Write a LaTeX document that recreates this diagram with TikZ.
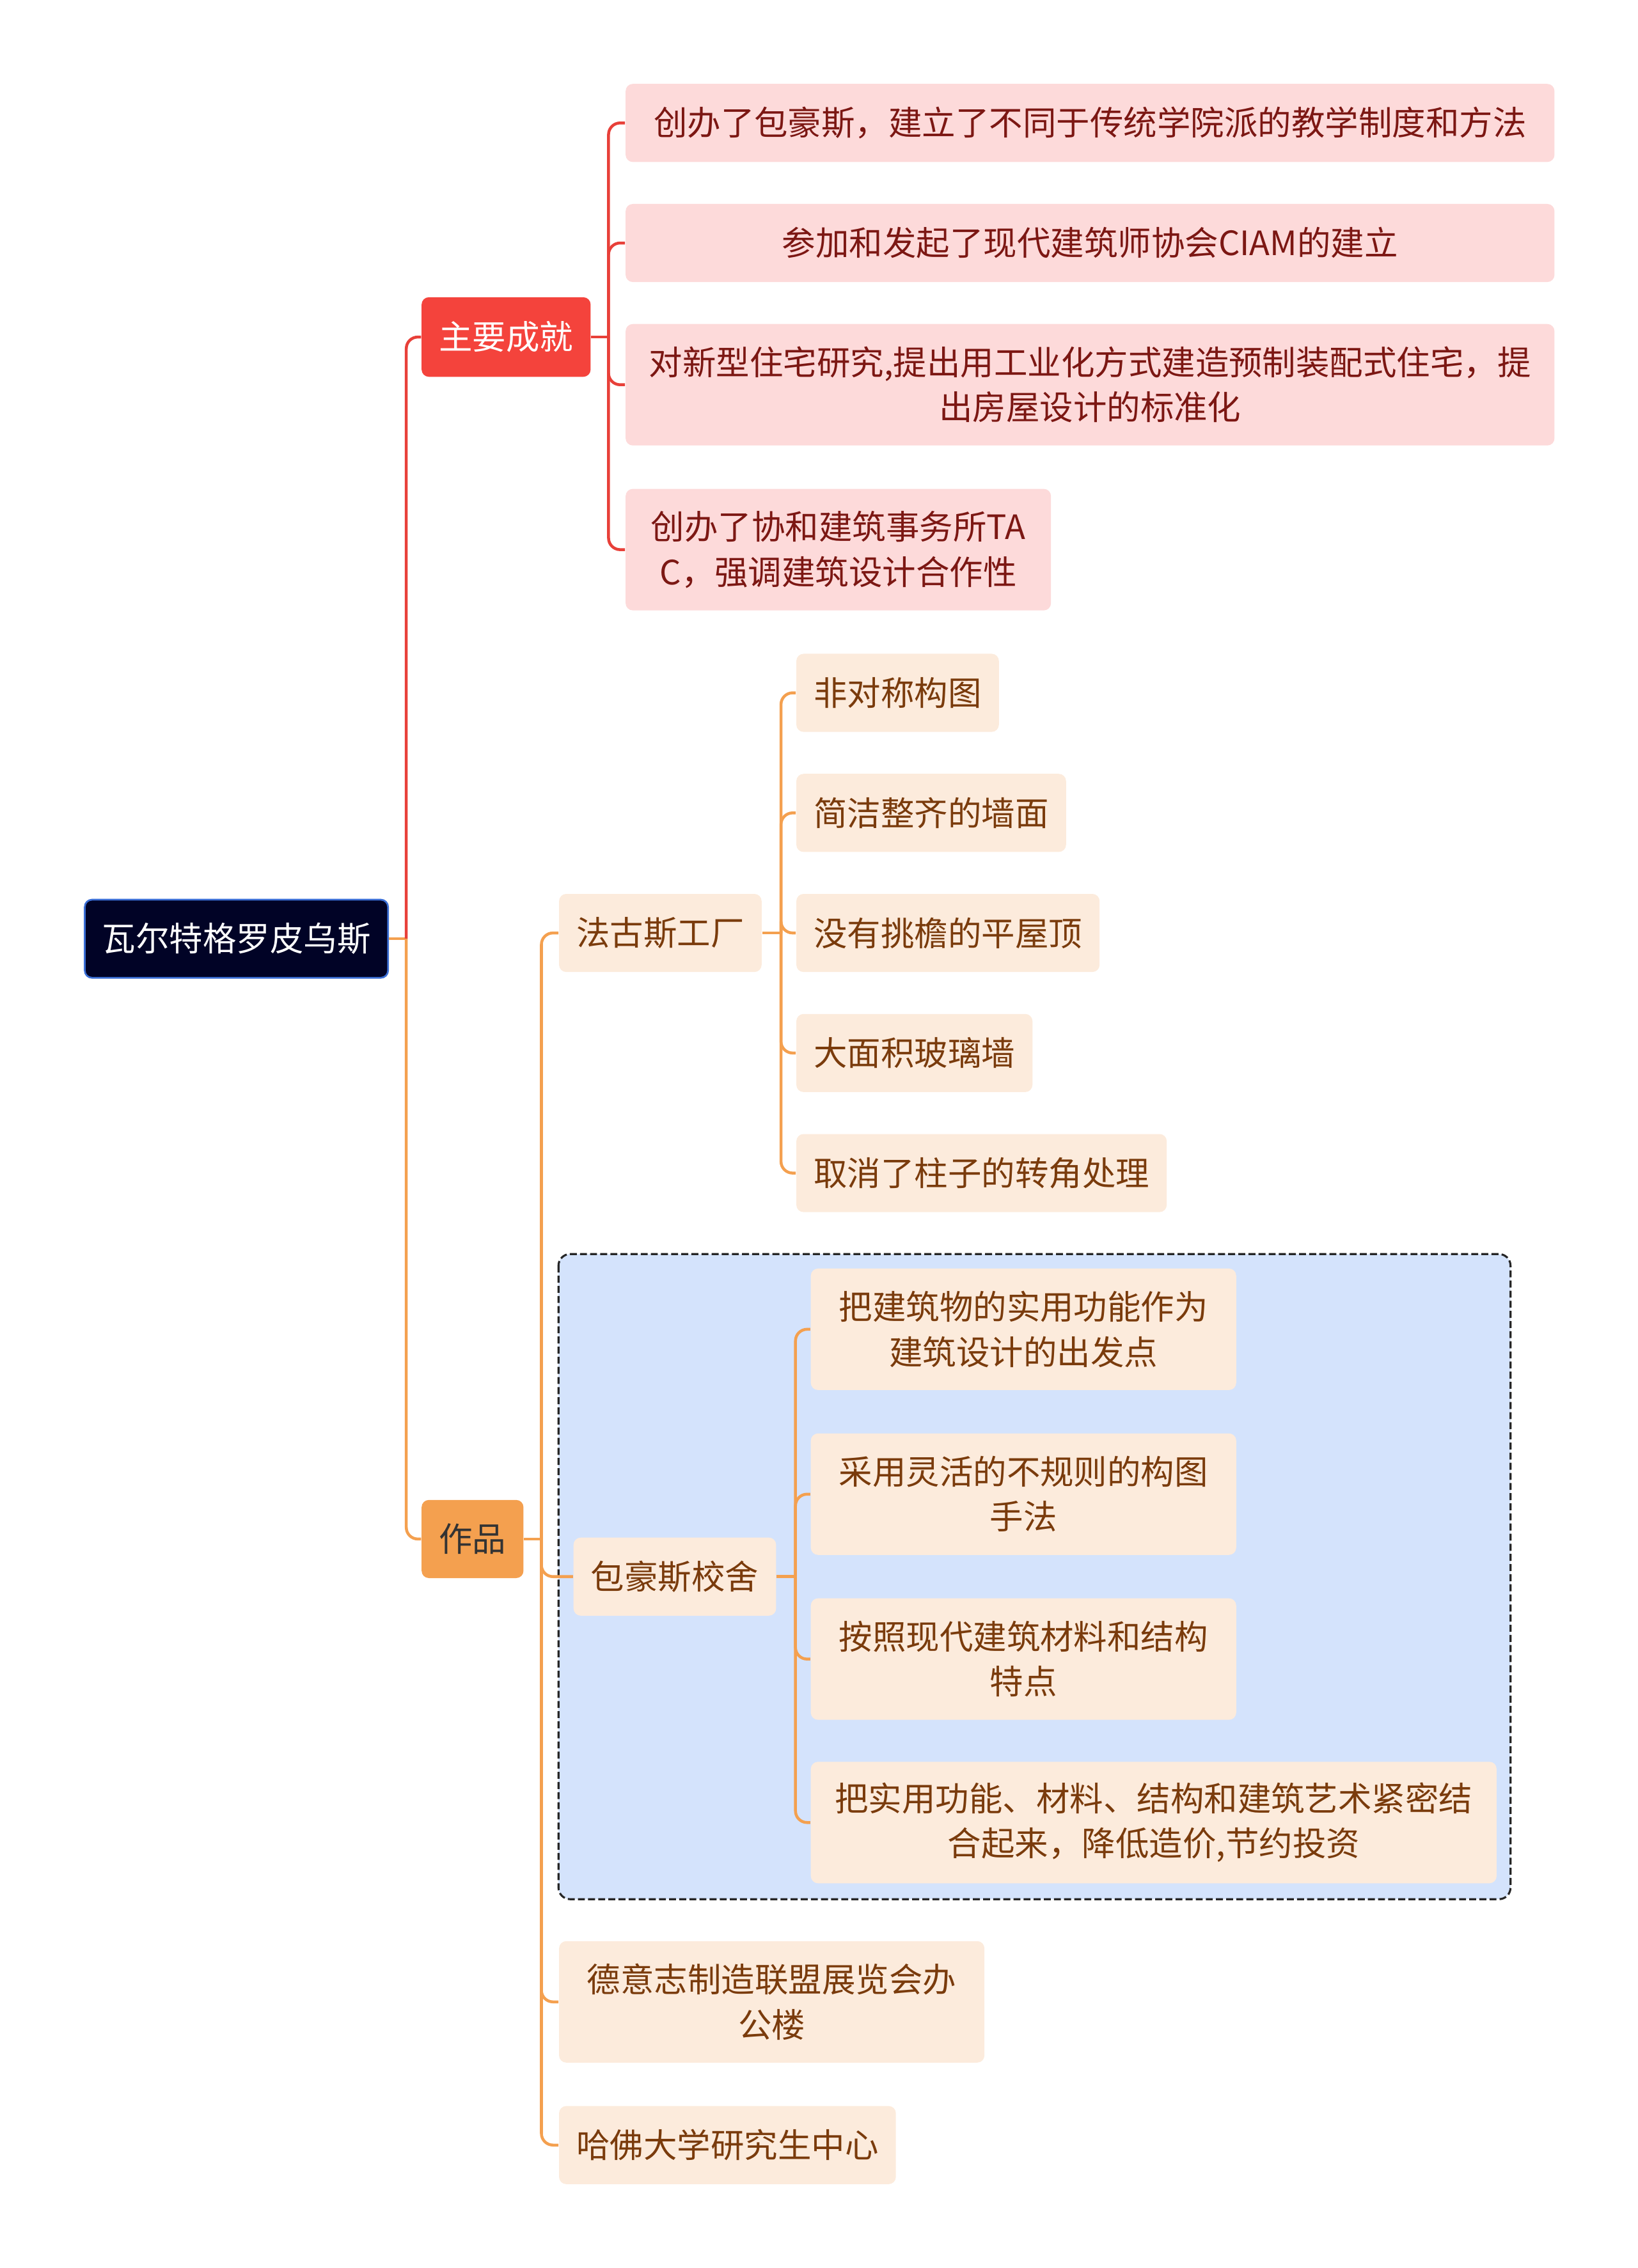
\documentclass[tikz,border=0pt]{standalone}
\usepackage{fontspec}
\setmainfont{Noto Sans CJK SC}
\usepackage{xcolor}
\usepackage{tikz}

\definecolor{navy}{HTML}{010326}
\definecolor{rootline}{HTML}{3B6FD6}
\definecolor{redmain}{HTML}{F4433C}
\definecolor{redfill}{HTML}{FDDADA}
\definecolor{redtext}{HTML}{7C1713}
\definecolor{orangemain}{HTML}{F4A04F}
\definecolor{orangefill}{HTML}{FCEBDC}
\definecolor{orangetext}{HTML}{7A3B0C}
\definecolor{boxfill}{HTML}{D4E3FC}

\tikzset{
  every node/.style={font=\fontsize{11.6}{15.5}\selectfont, inner xsep=6pt, inner ysep=0pt,
    rounded corners=2.5pt, align=center, anchor=west},
  rootbox/.style={fill=navy, draw=rootline, line width=0.6pt, text=white, minimum height=27pt},
  redhead/.style={fill=redmain, text=white, minimum height=27.5pt},
  orangehead/.style={fill=orangemain, text=black!80, minimum height=27pt},
  redleaf/.style={fill=redfill, text=redtext, minimum height=27pt},
  orangeleaf/.style={fill=orangefill, text=orangetext, minimum height=27pt},
  tall/.style={minimum height=42pt},
  redline/.style={draw=redmain!95!black, line width=1pt, rounded corners=4pt},
  orangeline/.style={draw=orangemain, line width=1pt, rounded corners=4pt},
}

\begin{document}
\begin{tikzpicture}[x=0.5pt, y=-0.5pt]
    \useasboundingbox (0,0) rectangle (1132,1568);
    \draw[fill=boxfill, draw=black!85, line width=0.7pt, dash pattern=on 2.4pt off 1.1pt, rounded corners=4pt]
      (386,867) rectangle (1044,1313);

    \node[rootbox] (root) at (58,649) {瓦尔特格罗皮乌斯};
    \node[redhead] (cj) at (291,233) {主要成就};
    \node[orangehead] (zp) at (291,1064) {作品};

    \node[redleaf, minimum width=321pt] (cj1) at (432,85) {创办了包豪斯，建立了不同于传统学院派的教学制度和方法};
    \node[redleaf, minimum width=321pt] (cj2) at (432,168) {参加和发起了现代建筑师协会CIAM的建立};
    \node[redleaf, tall, minimum width=321pt] (cj3) at (432,266) {对新型住宅研究,提出用工业化方式建造预制装配式住宅，提\\出房屋设计的标准化};
    \node[redleaf, tall, minimum width=147pt] (cj4) at (432,380) {创办了协和建筑事务所TA\\C，强调建筑设计合作性};

    \node[orangeleaf] (fg) at (386,645) {法古斯工厂};
    \node[orangeleaf] (fg1) at (550,479) {非对称构图};
    \node[orangeleaf] (fg2) at (550,562) {简洁整齐的墙面};
    \node[orangeleaf] (fg3) at (550,645) {没有挑檐的平屋顶};
    \node[orangeleaf] (fg4) at (550,728) {大面积玻璃墙};
    \node[orangeleaf] (fg5) at (550,811) {取消了柱子的转角处理};

    \node[orangeleaf] (bh) at (396,1090) {包豪斯校舍};
    \node[orangeleaf, tall, minimum width=147pt] (bh1) at (560,919) {把建筑物的实用功能作为\\建筑设计的出发点};
    \node[orangeleaf, tall, minimum width=147pt] (bh2) at (560,1033) {采用灵活的不规则的构图\\手法};
    \node[orangeleaf, tall, minimum width=147pt] (bh3) at (560,1147) {按照现代建筑材料和结构\\特点};
    \node[orangeleaf, tall, minimum width=237pt] (bh4) at (560,1260) {把实用功能、材料、结构和建筑艺术紧密结\\合起来，降低造价,节约投资};

    \node[orangeleaf, tall, minimum width=147pt] (dy) at (386,1384) {德意志制造联盟展览会办\\公楼};
    \node[orangeleaf] (hf) at (386,1483) {哈佛大学研究生中心};

    \coordinate (jroot) at ([xshift=6pt]root.east);
    \coordinate (jcj) at ([xshift=6pt]cj.east);
    \coordinate (jzp) at ([xshift=6pt]zp.east);
    \coordinate (jfg) at ([xshift=6.5pt]fg.east);
    \coordinate (jbh) at ([xshift=6.5pt]bh.east);

    \draw[orangeline] (root.east) -- (jroot);
    \draw[redline] (jroot) |- (cj.west);
    \draw[orangeline] (jroot) |- (zp.west);

    \draw[redline] (cj.east) -- (jcj);
    \foreach \c in {cj1,cj2,cj3,cj4}
      \draw[redline] (jcj) |- (\c.west);

    \draw[orangeline] (zp.east) -- (jzp);
    \foreach \c in {fg,bh,dy,hf}
      \draw[orangeline] (jzp) |- (\c.west);

    \draw[orangeline] (fg.east) -- (jfg);
    \foreach \c in {fg1,fg2,fg3,fg4,fg5}
      \draw[orangeline] (jfg) |- (\c.west);

    \draw[orangeline] (bh.east) -- (jbh);
    \foreach \c in {bh1,bh2,bh3,bh4}
      \draw[orangeline] (jbh) |- (\c.west);
  \end{tikzpicture}
\end{document}
